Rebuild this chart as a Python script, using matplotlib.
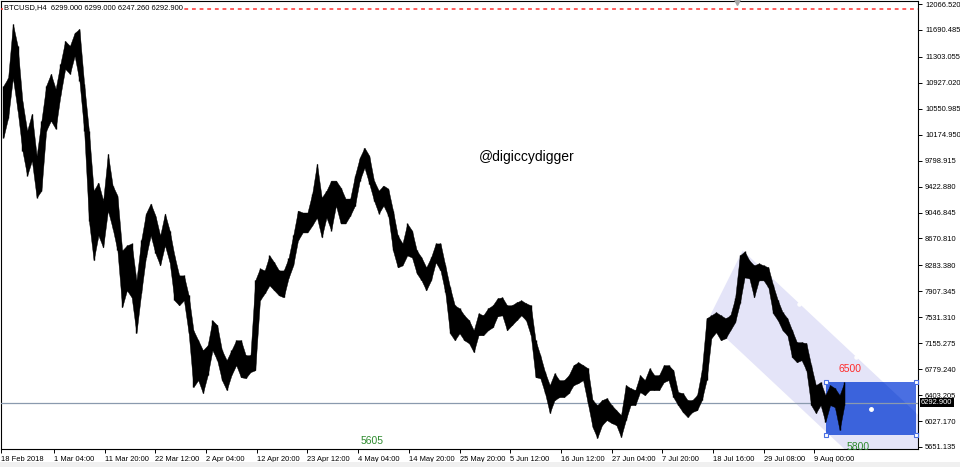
import matplotlib.pyplot as plt
from matplotlib.patches import Polygon, Rectangle

plt.rcParams['font.family'] = ['Liberation Sans', 'DejaVu Sans']

# daily high / low, day 0 = 18 Feb 2018
highs = [10882, 10997, 11778, 11460, 10665, 10231, 10477, 9870, 10376, 10882,
         11055, 10838, 11200, 11532, 11460, 11648, 11705, 10911, 10231, 9364,
         9480, 9220, 9899, 9437, 9292, 8497, 8570, 8599, 8064, 8642,
         9032, 9177, 9003, 8714, 9032, 8786, 8425, 8136, 8136, 7847,
         7341, 7197, 7052, 7125, 7486, 7414, 7052, 6908, 7052, 7197,
         7197, 6980, 6980, 8064, 8237, 8208, 8425, 8324, 8208, 8208,
         8382, 8714, 9075, 9047, 9047, 9321, 9755, 9263, 9364, 9509,
         9509, 9408, 9249, 9249, 9581, 9841, 9986, 9870, 9509, 9364,
         9437, 9393, 9075, 8714, 8599, 8888, 8786, 8497, 8396, 8252,
         8396, 8599, 8599, 8281, 7963, 7703, 7659, 7558, 7486, 7341,
         7587, 7558, 7659, 7703, 7804, 7818, 7703, 7703, 7746, 7775,
         7732, 7703, 7197, 6980, 6735, 6547, 6720, 6619, 6619, 6691,
         6836, 6879, 6836, 6792, 6330, 6258, 6330, 6359, 6258, 6185,
         6113, 6547, 6503, 6474, 6691, 6619, 6792, 6691, 6691, 6836,
         6836, 6763, 6446, 6431, 6330, 6330, 6402, 6763, 7515, 7558,
         7602, 7558, 7515, 7558, 7804, 8425, 8483, 8353, 8281, 8310,
         8281, 8252, 7992, 7775, 7602, 7515, 7341, 7168, 7168, 7154,
         6836, 6547, 6590, 6402, 6547, 6503, 6402, 6590]
lows = [10130, 10419, 10997, 10520, 9942, 9581, 9798, 9263, 9364, 10231,
        10376, 10260, 10737, 11127, 11055, 11315, 10954, 10231, 8931, 8353,
        8714, 8541, 9075, 8815, 8497, 7674, 7919, 7818, 7298, 7876,
        8396, 8714, 8454, 8281, 8570, 8324, 7775, 7703, 7775, 7298,
        6518, 6619, 6431, 6691, 7052, 6908, 6619, 6474, 6691, 6836,
        6662, 6648, 6735, 6763, 7775, 7876, 7992, 7919, 7847, 7818,
        8093, 8281, 8642, 8758, 8758, 8859, 8974, 8685, 8974, 8786,
        9148, 8888, 8888, 9003, 9148, 9509, 9697, 9466, 9220, 9032,
        9148, 9003, 8497, 8252, 8281, 8425, 8396, 8165, 8064, 7919,
        8064, 8324, 8208, 7891, 7298, 7197, 7298, 7197, 7154, 7024,
        7269, 7269, 7341, 7385, 7544, 7558, 7341, 7414, 7486, 7558,
        7486, 7269, 6662, 6648, 6431, 6142, 6330, 6373, 6373, 6431,
        6547, 6576, 6619, 6287, 5940, 5781, 5969, 6041, 5998, 5969,
        5795, 6041, 6258, 6258, 6446, 6402, 6474, 6474, 6474, 6590,
        6619, 6373, 6258, 6157, 6084, 6157, 6185, 6330, 6619, 7226,
        7313, 7197, 7226, 7341, 7457, 7732, 8107, 8093, 7818, 8064,
        8064, 7963, 7587, 7486, 7341, 7269, 6951, 6879, 6908, 6763,
        6258, 6142, 6258, 6012, 6258, 6229, 5896, 6258]
last_close = 6292.9
alert_level = 12000

price_ticks = [12066.520, 11690.485, 11303.055, 10927.020, 10550.985, 10174.950,
               9798.915, 9422.880, 9046.845, 8670.810, 8283.380, 7907.345,
               7531.310, 7155.275, 6779.240, 6403.205, 6027.170, 5651.135]
date_labels = ['18 Feb 2018', '1 Mar 04:00', '11 Mar 20:00', '22 Mar 12:00',
               '2 Apr 04:00', '12 Apr 20:00', '23 Apr 12:00', '4 May 04:00',
               '14 May 20:00', '25 May 20:00', '5 Jun 12:00', '16 Jun 12:00',
               '27 Jun 04:00', '7 Jul 20:00', '18 Jul 16:00', '29 Jul 08:00',
               '9 Aug 00:00']
header = 'BTCUSD,H4  6299.000 6299.000 6247.260 6292.900'
watermark = '@digiccydigger'

# drawn objects (day, price)
channel_upper = [(156.1, 8497), (185.9, 6576)]
channel_low_start = (148.7, 7479)
channel_width = 1495
box_days = (173.7, 192.6)
box_prices = (5824, 6590)
notes = [(178.6, 6778, '6500', '#ff2a2a'), (180.5, 5651, '5800', '#2e8b2e'),
         (78.2, 5737, '5605', '#2e8b2e')]

x_max = 193
y_min, y_max = 5622, 12110

fig = plt.figure(figsize=(9.6, 4.67), dpi=100)
ax = fig.add_axes([1 / 960, 18 / 467, 917 / 960, 448 / 467])
ax.set_xlim(0, x_max)
ax.set_ylim(y_min, y_max)

# price bars as a high/low envelope with a stroke per day
days = [d + 0.5 for d in range(len(highs))]
ax.fill_between(days, lows, highs, color='black', lw=0.3, zorder=4)
ax.vlines(days, lows, highs, color='black', lw=1.0, zorder=4)

# channel
(x1, p1), (x2, p2) = channel_upper
slope = (p2 - p1) / (x2 - x1)
up_end = p1 + slope * (x_max + 5 - x1)
chan = Polygon([(x1, p1), (x_max + 5, up_end), (x_max + 5, up_end - channel_width),
                channel_low_start], closed=True, fc='#e4e4f8', ec='none', zorder=1)
ax.add_patch(chan)
ax.plot([x1 + (x2 - x1) * 0.4, x2 - (x2 - x1) * 0.2],
        [p1 + slope * (x2 - x1) * 0.4, p2 - slope * (x2 - x1) * 0.2],
        'o', ms=2.2, color='white', zorder=3)

# box
bx0, bx1 = box_days
bp0, bp1 = box_prices
box = Rectangle((bx0, bp0), bx1 - bx0, bp1 - bp0, fc='#4a6fe2', ec='none', zorder=2)
ax.add_patch(box)
overlap = Polygon(chan.get_xy(), closed=True, fc='#3b63dc', ec='none', zorder=2.5)
ax.add_patch(overlap)
overlap.set_clip_path(box)
for bx in box_days:
    for bp in box_prices:
        ax.plot(bx, bp, 's', ms=3, mfc='white', mec='#4a6fe2', mew=0.8,
                zorder=6, clip_on=False)
ax.plot((bx0 + bx1) / 2, (bp0 + bp1) / 2, 'o', ms=2.5, color='white', zorder=6)

for x, p, txt, col in notes:
    ax.text(x, p, txt, color=col, fontsize=7.5, ha='center', va='center', zorder=7)

ax.axhline(last_close, color='#8a9aae', lw=0.9, zorder=3)
ax.axhline(alert_level, color='#ff3030', lw=1.1, ls=(0, (2.5, 2.5)), zorder=3)
ax.plot(154.8, y_max, 'v', ms=6, color='#a8a8a8', clip_on=False, zorder=8)

ax.text(526 / 917 * x_max, 9844, watermark, fontsize=10, ha='center',
        va='center', zorder=7)
fig.text(4 / 960, 1 - 8 / 467, header, fontsize=5.4, va='center',
         bbox=dict(fc='white', ec='none', pad=0.5))

# axes
for s in ax.spines.values():
    s.set_color('black')
    s.set_linewidth(0.8)
ax.yaxis.tick_right()
ax.set_yticks(price_ticks)
ax.set_yticklabels(['%.3f' % v for v in price_ticks])
tick_days = [0] + [(67 + 64 * k) / 6 for k in range(len(date_labels) - 1)]
ax.set_xticks(tick_days)
ax.set_xticklabels(date_labels, ha='left')
ax.tick_params(axis='both', labelsize=5.4, length=3, width=0.7, colors='black')
ax.tick_params(axis='y', pad=2)
ax.tick_params(axis='x', pad=2)

ax.text(1 + 3 / 917, last_close, '%.3f' % last_close, transform=ax.get_yaxis_transform(),
        color='white', fontsize=5.4, va='center', ha='left',
        bbox=dict(fc='black', ec='none', pad=0.8), zorder=9, clip_on=False)

fig.patches.append(Rectangle((0, 0), 1, 5 / 467, transform=fig.transFigure,
                             fc='#f0f0f0', ec='none'))

fig.savefig('out.png', dpi=100)
